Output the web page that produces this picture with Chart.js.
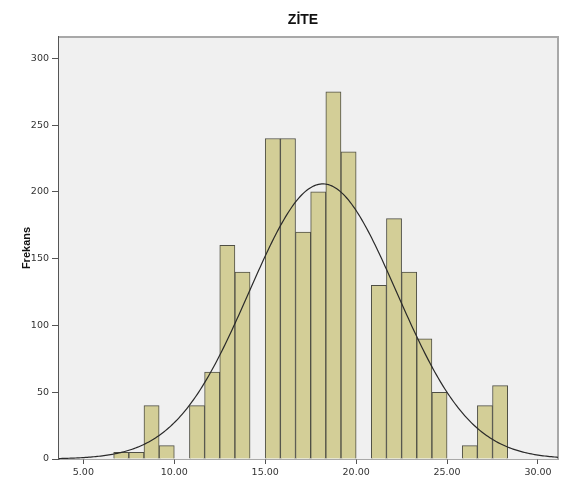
<!DOCTYPE html>
<html>
<head>
<meta charset="utf-8">
<title>ZİTE</title>
<script src="https://cdn.jsdelivr.net/npm/chart.js@4.4.1/dist/chart.umd.min.js"></script>
<style>
  html, body { margin: 0; padding: 0; background: #ffffff; }
  #wrap { width: 562px; height: 480px; }
</style>
</head>
<body>
<div id="wrap"><canvas id="hist" width="562" height="480"></canvas></div>
<script>
// Histogram of ZİTE: bins of width 5/6 starting at 6.667
const binStart = 20 / 3;
const binWidth = 5 / 6;
const frequencies = [5, 5, 40, 10, 0, 40, 65, 160, 140, 0, 240, 240, 170, 200, 275, 230, 0, 130, 180, 140, 90, 50, 0, 10, 40, 55];
const xTicks = [5, 10, 15, 20, 25, 30];
const yTicks = [0, 50, 100, 150, 200, 250, 300];
const chartTitle = 'ZİTE';
const yTitle = 'Frekans';

// bar centres
const binMids = frequencies.map((_, i) => binStart + binWidth * (i + 0.5));
const bars = frequencies.map((f, i) => ({ x: binMids[i], y: f }));

// fitted normal curve from the binned data
const total = frequencies.reduce((a, b) => a + b, 0);
const mean = frequencies.reduce((s, f, i) => s + f * binMids[i], 0) / total;
const sd = Math.sqrt(frequencies.reduce((s, f, i) => s + f * (binMids[i] - mean) ** 2, 0) / total);
const xMin = 3.66, xMax = 31.1;
const curve = [];
for (let k = 0; k <= 300; k++) {
  const x = xMin + (xMax - xMin) * k / 300;
  const z = (x - mean) / sd;
  curve.push({ x, y: total * binWidth / (sd * Math.sqrt(2 * Math.PI)) * Math.exp(-0.5 * z * z) });
}

const tickFont = { size: 9.5, family: '"DejaVu Sans", Arial, sans-serif' };

const plotFrame = {
  id: 'plotFrame',
  beforeDatasetsDraw(chart) {
    const { ctx, chartArea: a } = chart;
    ctx.save();
    ctx.fillStyle = '#f0f0f0';
    ctx.fillRect(a.left, a.top, a.right - a.left, a.bottom - a.top);
    ctx.strokeStyle = '#a8a8a8';
    ctx.lineWidth = 2;
    ctx.beginPath();
    ctx.moveTo(a.left, a.top);
    ctx.lineTo(a.right, a.top);
    ctx.lineTo(a.right, a.bottom);
    ctx.stroke();
    ctx.restore();
  },
  afterDraw(chart) {
    const { ctx } = chart;
    ctx.save();
    ctx.fillStyle = '#111';
    ctx.font = 'bold 14px "Liberation Sans", Arial, sans-serif';
    ctx.textAlign = 'center';
    ctx.textBaseline = 'middle';
    ctx.fillText(chartTitle, 303, 20);
    ctx.restore();
  }
};

new Chart(document.getElementById('hist'), {
  type: 'bar',
  data: {
    datasets: [
      {
        type: 'line',
        data: curve,
        borderColor: '#2a2a2a',
        borderWidth: 1.2,
        pointRadius: 0,
        tension: 0,
        order: 0
      },
      {
        type: 'bar',
        data: bars,
        backgroundColor: '#d3ce97',
        borderColor: '#4f4f45',
        borderWidth: 1,
        barPercentage: 1,
        categoryPercentage: 1,
        grouped: false,
        order: 1
      }
    ]
  },
  options: {
    responsive: false,
    animation: false,
    devicePixelRatio: 1,
    layout: { padding: { top: 37, right: 4, left: 0, bottom: 0 } },
    plugins: { legend: { display: false }, tooltip: { enabled: false }, title: { display: false } },
    scales: {
      x: {
        type: 'linear',
        min: xMin,
        max: xMax,
        offset: false,
        afterBuildTicks(s) { s.ticks = xTicks.map(v => ({ value: v })); },
        afterFit(s) { s.height = 21; },
        grid: { offset: false, drawOnChartArea: false, drawTicks: true, tickLength: 5, color: '#555' },
        border: { display: true, color: '#555', width: 1.5 },
        ticks: {
          padding: 3,
          maxRotation: 0,
          color: '#333',
          font: tickFont,
          callback: v => v.toFixed(2)
        }
      },
      y: {
        min: 0,
        max: 316,
        afterBuildTicks(s) { s.ticks = yTicks.map(v => ({ value: v })); },
        afterFit(s) { s.width = 59; },
        grid: { drawOnChartArea: false, drawTicks: true, tickLength: 7, color: '#555' },
        border: { display: true, color: '#555', width: 1.5 },
        title: {
          display: true,
          text: yTitle,
          color: '#111',
          font: { size: 11, weight: 'bold', family: '"Liberation Sans", Arial, sans-serif' },
          padding: { top: 20, bottom: 0 }
        },
        ticks: {
          padding: 3,
          color: '#333',
          font: tickFont
        }
      }
    }
  },
  plugins: [plotFrame]
});
</script>
</body>
</html>
